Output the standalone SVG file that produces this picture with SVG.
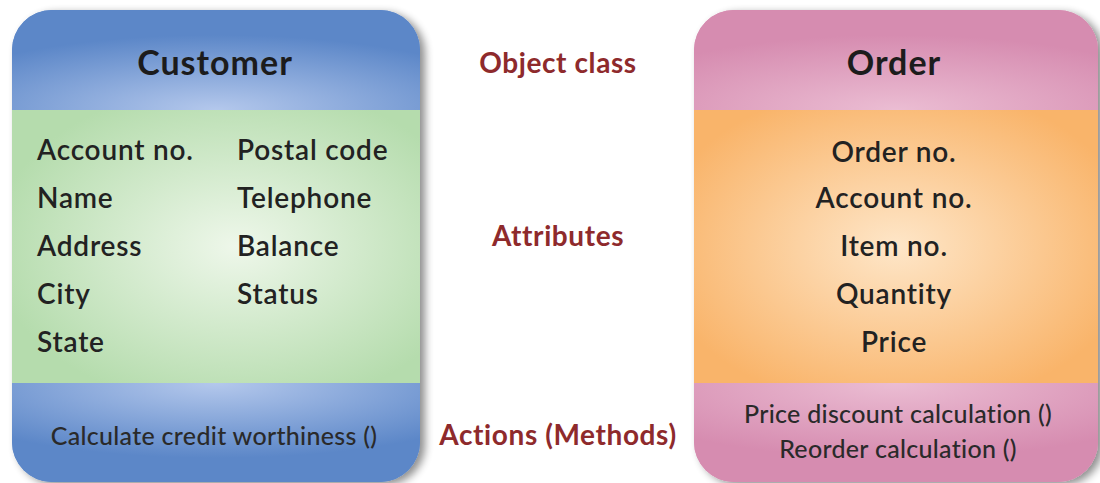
<svg xmlns="http://www.w3.org/2000/svg" width="1100" height="483" viewBox="0 0 1100 483">
<style>
.title{font-family:Lato,"Open Sans",sans-serif;font-weight:700;font-size:34px;letter-spacing:1px;fill:#1c1c1c}
.attr{font-family:Lato,"Open Sans",sans-serif;font-weight:600;font-size:28px;letter-spacing:0.8px;fill:#222}
.meth{font-family:Lato,"Open Sans",sans-serif;font-weight:500;font-size:25px;letter-spacing:0.3px;fill:#2a2a2a}
.lbl{font-family:Lato,"Open Sans",sans-serif;font-weight:700;font-size:28px;letter-spacing:0.6px;fill:#8e2a2c}
</style>
<defs>
<radialGradient id="gBlue" cx="0.5" cy="1" r="0.75">
<stop offset="0" stop-color="#b4c8ec"/><stop offset="1" stop-color="#5c87c8"/>
</radialGradient>
<radialGradient id="gBlue2" cx="0.5" cy="0" r="0.75">
<stop offset="0" stop-color="#b4c8ec"/><stop offset="1" stop-color="#5c87c8"/>
</radialGradient>
<radialGradient id="gGreen" cx="0.55" cy="0.5" r="0.6">
<stop offset="0" stop-color="#eef7ea"/><stop offset="1" stop-color="#b5dcad"/>
</radialGradient>
<radialGradient id="gPink" cx="0.5" cy="1" r="0.75">
<stop offset="0" stop-color="#ebbdd3"/><stop offset="1" stop-color="#d68cb0"/>
</radialGradient>
<radialGradient id="gPink2" cx="0.5" cy="0" r="0.75">
<stop offset="0" stop-color="#ebbdd3"/><stop offset="1" stop-color="#d68cb0"/>
</radialGradient>
<radialGradient id="gOrange" cx="0.5" cy="0.5" r="0.6">
<stop offset="0" stop-color="#fee6c8"/><stop offset="1" stop-color="#f9b46a"/>
</radialGradient>
<clipPath id="cC"><rect x="12" y="10" width="408" height="472" rx="40"/></clipPath>
<clipPath id="cO"><rect x="694" y="10" width="404" height="472" rx="40"/></clipPath>
<filter id="sh" x="-10%" y="-10%" width="125%" height="125%">
<feGaussianBlur in="SourceAlpha" stdDeviation="4"/><feOffset dx="5" dy="3"/>
<feComponentTransfer><feFuncA type="linear" slope="0.45"/></feComponentTransfer>
<feMerge><feMergeNode/><feMergeNode in="SourceGraphic"/></feMerge>
</filter>
</defs>
<rect width="1100" height="483" fill="#fff"/>
<g id="customer">
<rect x="12" y="10" width="408" height="472" rx="40" fill="#5c87c8" filter="url(#sh)"/>
<g clip-path="url(#cC)">
<rect x="12" y="10" width="408" height="100" fill="url(#gBlue)"/>
<rect x="12" y="110" width="408" height="273" fill="url(#gGreen)"/>
<rect x="12" y="383" width="408" height="100" fill="url(#gBlue2)"/>
</g>
<text class="title" x="215" y="75" text-anchor="middle">Customer</text>
<text class="attr" x="37" y="160">Account no.</text>
<text class="attr" x="37" y="208">Name</text>
<text class="attr" x="37" y="256">Address</text>
<text class="attr" x="37" y="304">City</text>
<text class="attr" x="37" y="352">State</text>
<text class="attr" x="237" y="160">Postal code</text>
<text class="attr" x="237" y="208">Telephone</text>
<text class="attr" x="237" y="256">Balance</text>
<text class="attr" x="237" y="304">Status</text>
<text class="meth" x="214" y="445" text-anchor="middle">Calculate credit worthiness ()</text>
</g>
<g id="order">
<rect x="694" y="10" width="404" height="472" rx="40" fill="#d68cb0" filter="url(#sh)"/>
<g clip-path="url(#cO)">
<rect x="694" y="10" width="404" height="100" fill="url(#gPink)"/>
<rect x="694" y="110" width="404" height="273" fill="url(#gOrange)"/>
<rect x="694" y="383" width="404" height="100" fill="url(#gPink2)"/>
</g>
<text class="title" x="894" y="75" text-anchor="middle">Order</text>
<text class="attr" x="894" y="162" text-anchor="middle">Order no.</text>
<text class="attr" x="894" y="208" text-anchor="middle">Account no.</text>
<text class="attr" x="894" y="256" text-anchor="middle">Item no.</text>
<text class="attr" x="894" y="304" text-anchor="middle">Quantity</text>
<text class="attr" x="894" y="352" text-anchor="middle">Price</text>
<text class="meth" x="898" y="423" text-anchor="middle">Price discount calculation ()</text>
<text class="meth" x="898" y="458" text-anchor="middle">Reorder calculation ()</text>
</g>
<g id="labels">
<text class="lbl" x="558" y="73" text-anchor="middle">Object class</text>
<text class="lbl" x="558" y="246" text-anchor="middle">Attributes</text>
<text class="lbl" x="558" y="445" text-anchor="middle">Actions (Methods)</text>
</g>
<g id="connectors"/>
</svg>
